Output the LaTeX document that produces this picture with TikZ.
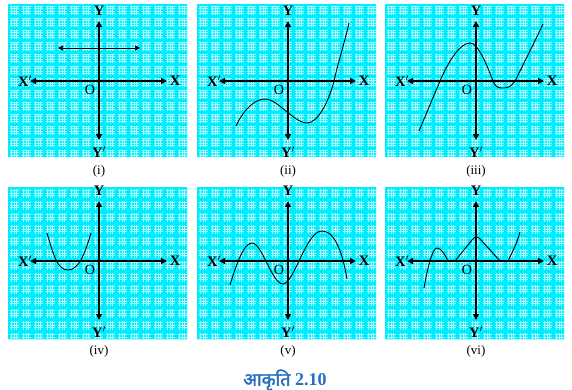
\documentclass[tikz,border=0pt]{standalone}
\usepackage{fontspec}
\setmainfont{Liberation Serif}
\newfontfamily\devab[Script=Devanagari, FakeBold=2.2]{Noto Sans}
\usetikzlibrary{arrows.meta}
\definecolor{gridcyan}{RGB}{0,236,255}
\definecolor{gridlight}{RGB}{175,252,255}
\definecolor{titleblue}{RGB}{40,110,190}
\tikzset{
 axis/.style={line width=1.8pt, {Triangle[length=6pt,width=6pt]}-{Triangle[length=6pt,width=6pt]}},
 curve/.style={line width=0.9pt, line join=round},
 axlabel/.style={font=\fontsize{14.5}{14.5}\selectfont\bfseries, inner sep=0pt},
 olabel/.style={font=\fontsize{14}{14}\selectfont, inner sep=0pt},
 caption/.style={font=\fontsize{13}{13}\selectfont, inner sep=0pt},
 fine/.style={gridlight, line width=0.5pt},
 major/.style={gridcyan, line width=3pt},
}
\newcommand\gpanel[6]{%
 \begin{scope}
  \clip (#2,#3) rectangle ++(179,152);
  \fill[gridcyan] (#2,#3) rectangle ++(179,152);
  \foreach \k in {0,...,74} \draw[fine] ({#2+1.2+\k*2.4},#3) -- ++(0,152);
  \foreach \k in {0,...,63} \draw[fine] (#2,{#3+1.2+\k*2.4}) -- ++(179,0);
  \foreach \k in {0,...,15} \draw[major] ({#2+\k*12},#3) -- ++(0,152);
  \foreach \k in {0,...,13} \draw[major] (#2,{#3+\k*12}) -- ++(179,0);
 \end{scope}
 \coordinate (#1-l) at (#4-69,#5);
 \coordinate (#1-r) at (#4+68,#5);
 \coordinate (#1-t) at (#4,#5-60);
 \coordinate (#1-b) at (#4,#5+59);
 \draw[axis] (#1-l) -- (#1-r);
 \draw[axis] (#1-t) -- (#1-b);
 \node[axlabel] (#1-xp) at (#4-74,#5) {X$'$};
 \node[axlabel] (#1-x) at (#4+76,#5) {X};
 \node[axlabel] (#1-y) at (#4,#5-70) {Y};
 \node[axlabel] (#1-yp) at (#4,#5+71) {Y$'$};
 \node[olabel] (#1-o) at (#4-9,#5+9) {O};
 \node[caption] (#1-cap) at (#4,#5+90) {#6};
}
\begin{document}
\begin{tikzpicture}[x=1pt,y=-1pt]
\useasboundingbox (0,0) rectangle (572,390);
\fill[white] (0,0) rectangle (572,390);

\gpanel{p1}{8}{5}{99}{81}{(i)}
\gpanel{p2}{197}{5}{288}{81}{(ii)}
\gpanel{p3}{385}{5}{476}{81}{(iii)}
\gpanel{p4}{8}{187}{99}{261}{(iv)}
\gpanel{p5}{197}{187}{288}{261}{(v)}
\gpanel{p6}{385}{187}{476}{261}{(vi)}

% (i)
\begin{scope}[shift={(99,81)}]
 \coordinate (h1) at (-41,-33);
 \coordinate (h2) at (41,-33);
 \draw[line width=0.7pt, {Triangle[length=5pt,width=5pt]}-{Triangle[length=5pt,width=5pt]}] (h1) -- (h2);
\end{scope}

% (ii)
\begin{scope}[shift={(288,81)}]
 \draw[curve] (-52,45) .. controls (-44,28) and (-33,18) .. (-23,18)
   .. controls (-10,18) and (6,42) .. (19,42)
   .. controls (30,42) and (41,20) .. (46,0)
   .. controls (50,-18) and (57,-40) .. (61,-58);
\end{scope}

% (iii)
\begin{scope}[shift={(476,81)}]
 \draw[curve] (-57,50) -- (-36,0)
   .. controls (-28,-19) and (-16,-38) .. (-6,-38)
   .. controls (2,-38) and (10,-18) .. (17,0)
   .. controls (20,7.5) and (24,7) .. (28,7)
   .. controls (32,7) and (36,5) .. (39,0)
   .. controls (45,-12) and (60,-42) .. (67,-57);
\end{scope}

% (iv)
\begin{scope}[shift={(99,261)}]
 \draw[curve] (-52,-28) .. controls (-46,-8) and (-42,9) .. (-31,9)
   .. controls (-20,9) and (-14,-8) .. (-8,-28);
\end{scope}

% (v)
\begin{scope}[shift={(288,261)}]
 \draw[curve] (-58,24) .. controls (-53,8) and (-45,-18) .. (-36,-18)
   .. controls (-26,-18) and (-16,23) .. (-5,23)
   .. controls (6,23) and (18,-30) .. (34,-30)
   .. controls (48,-30) and (55,-5) .. (59,18);
\end{scope}

% (vi)
\begin{scope}[shift={(476,261)}]
 \draw[curve] (-52,27) .. controls (-49,10) and (-44,-13) .. (-39,-13)
   .. controls (-34,-13) and (-30,-4) .. (-28,0)
   -- (-21,0) -- (-4,-21)
   .. controls (-1,-25) and (2,-25) .. (5,-21)
   -- (24,0) -- (32,0)
   .. controls (36,-8) and (41,-18) .. (44,-29);
\end{scope}

\node[font=\fontsize{18}{18}\selectfont, text=titleblue, inner sep=0pt] (title) at (285,380) {{\devab आकृति} \textbf{2.10}};
\end{tikzpicture}
\end{document}
